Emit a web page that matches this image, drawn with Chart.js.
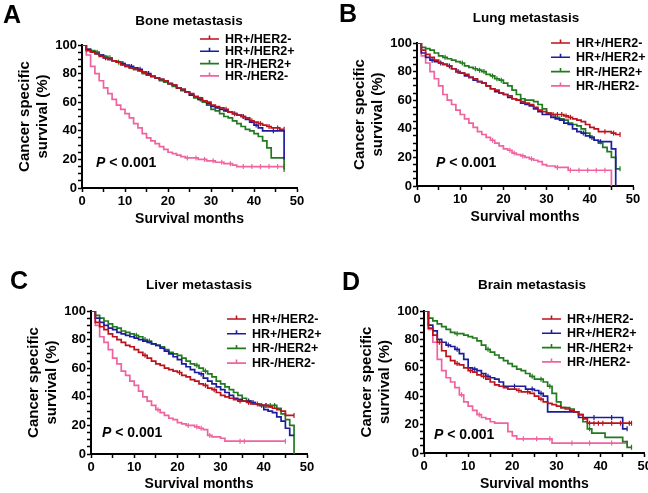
<!DOCTYPE html>
<html>
<head>
<meta charset="utf-8">
<script src="https://cdn.jsdelivr.net/npm/chart.js@4/dist/chart.umd.min.js"></script>
<style>
  body { margin: 0; background: #fff; width: 648px; height: 493px; position: relative; overflow: hidden; }
  canvas { position: absolute; }
</style>
</head>
<body>
<canvas id="cA" width="324" height="246" style="left:0;top:0"></canvas>
<canvas id="cB" width="324" height="246" style="left:324px;top:0"></canvas>
<canvas id="cC" width="324" height="247" style="left:0;top:246px"></canvas>
<canvas id="cD" width="330" height="247" style="left:324px;top:246px"></canvas>
<script>
const months = [0,1,2,3,4,5,6,7,8,9,10,11,12,13,14,15,16,17,18,19,20,21,22,23,24,25,26,27,28,29,30,31,32,33,34,35,36,37,38,39,40,41,42,43,44,45,46,47];
const groups = ['HR+/HER2-', 'HR+/HER2+', 'HR-/HER2+', 'HR-/HER2-'];
const groupColors = ['#bc121c', '#1c1c9c', '#217a1e', '#f0639f'];
const xTicks = [0, 10, 20, 30, 40, 50];
const yTicks = [0, 20, 40, 60, 80, 100];

// survival (%) at each month, A: bone
const boneHRposHER2neg = [100,96,95,94,92,91,90,89,88,86,85,84,83,82,81,79,78,77,76,75,73,72,70,69,67,66,64,63,61,60,58,57,56,55,53,52,51,50,49,47,46,45,44,43,42,42,41,41];
const boneHRposHER2pos = [100,97,95,94,93,91,90,89,88,87,86,85,84,83,81,80,78,77,76,75,73,72,70,69,67,65,64,62,61,59,57,56,55,54,53,52,51,50,48,46,44,42,40,40,40,40,40,20];
const boneHRnegHER2pos = [100,97,96,95,93,92,91,89,88,87,85,84,83,82,80,79,78,77,75,74,73,71,70,68,67,65,63,62,60,58,55,54,52,50,49,47,45,43,41,40,38,36,33,28,21,21,21,13];
const boneHRnegHER2neg = [100,93,85,80,75,70,66,62,58,55,52,49,45,42,38,35,33,31,29,27,25,24,23,22,21,21,21,20,20,19,19,18,18,17,17,16,15,15,15,15,15,15,15,15,15,15,15,15];
const boneCensored = [
  [33.5,35.5,37.5,39.5,41.5,43.5,45.5,47],
  [5.5,9.5,11.5,13.5,15.5,37.5,40.5,44.5],
  [3.5,6.5,8.5,27.5,47],
  [24.5,26.5,28.5,30.5,32.5,34.5,37.5,39.5,41.5,43.5,45.5,47]
];

// B: lung
const lungHRposHER2neg = [100,95,92,90,88,86,85,84,82,80,79,78,76,75,73,72,70,68,67,65,64,63,61,60,59,58,57,55,53,52,51,50,50,50,49,48,47,46,45,43,41,40,38,38,38,37,36,36];
const lungHRposHER2pos = [100,93,90,88,87,86,85,84,82,80,79,77,76,74,73,72,70,68,66,65,64,62,61,60,58,57,56,54,52,50,50,48,47,46,44,43,40,38,37,35,34,32,31,31,31,26,0,null];
const lungHRnegHER2pos = [100,97,96,95,93,91,90,89,88,87,86,84,83,82,81,80,78,77,75,74,72,70,67,64,61,60,60,59,57,54,51,50,48,47,46,44,43,42,40,37,34,32,30,27,24,20,12,12];
const lungHRnegHER2neg = [100,91,86,80,75,70,64,60,57,53,50,47,44,41,38,36,34,32,30,28,26,25,23,22,21,20,19,18,17,15,14,14,13,13,13,11,11,11,11,11,11,11,11,11,11,0,null,null];
const lungCensored = [
  [31.5,32.5,33.5,34.5,35.5,43.5,45.5,47],
  [3.5,5.5,7.5,9.5,38.5,40.5,42.5],
  [6.5,10.5,13.5,14.5,15.5,17.5,18.5,19.5,47],
  [17.5,21.5,22.5,24.5,26.5,32.5,35.5,37.5,39.5,41.5,43.5]
];

// C: liver
const liverHRposHER2neg = [100,92,89,87,84,82,80,78,76,75,73,71,69,67,65,63,62,60,59,58,57,55,54,52,51,49,48,46,45,43,41,40,39,38,37,37,36,35,35,34,34,33,32,31,30,27,27,27];
const liverHRposHER2pos = [100,95,92,90,88,87,85,84,83,82,81,80,79,78,77,76,74,72,70,68,66,63,61,59,57,56,53,51,49,47,45,43,41,39,38,37,37,36,35,34,31,30,29,26,23,18,13,13];
const liverHRnegHER2pos = [100,97,95,93,91,89,88,86,85,84,83,82,80,79,77,76,75,73,71,70,69,67,65,63,62,60,58,56,54,51,49,47,45,43,41,39,37,36,35,34,34,34,34,32,28,24,20,0];
const liverHRnegHER2neg = [100,90,82,78,73,67,63,58,55,51,48,44,40,37,34,31,29,27,25,24,22,21,20,20,19,18,17,13,12,12,11,9,9,9,9,9,9,9,9,9,9,9,9,9,9,9,null,null];
const liverCensored = [
  [12.5,20.5,26.5,28.5,34.5,36.5,38.5,40.5,47],
  [25.5,36.5,37.5],
  [10.5,12.5,13.5,24.5,26.5,39.5,40.5,41.5,42.5],
  [15.5,22.5,24.5,25.5,27.5,34.5,35.5,45]
];

// D: brain
const brainHRposHER2neg = [100,88,83,78,72,68,65,63,62,60,58,57,55,54,52,50,48,47,46,45,45,44,43,43,42,40,38,36,35,34,33,32,31,30,29,27,24,21,21,21,21,21,21,21,21,21,21,21];
const brainHRposHER2pos = [100,90,86,80,78,76,75,73,70,66,60,59,58,56,54,53,52,50,47,47,47,47,47,45,45,44,42,40,29,29,29,29,29,29,29,25,25,25,25,25,25,25,25,25,25,17,17,null];
const brainHRnegHER2pos = [100,95,93,91,89,87,85,84,84,83,82,81,79,76,73,71,69,67,65,63,61,59,58,56,54,52,52,50,47,42,36,32,32,31,29,27,22,17,14,14,14,11,11,11,11,8,4,4];
const brainHRnegHER2neg = [100,87,78,66,58,53,50,46,41,36,33,30,27,25,24,22,21,21,21,15,12,10,10,10,10,10,10,10,10,7,7,7,7,7,7,7,7,7,7,7,7,7,7,7,7,7,7,null];
const brainCensored = [
  [3.5,7.5,10.5,13.5,21.5,23.5,26.5,37.5,38.5,39.5,40.5,42.5,44.5,46.5,47],
  [5.5,7.5,11.5,14.5,20.5,24.5,26.5,38.5,42.5,46],
  [7.5,14.5,24.5,26.5,28.5,37.5,47],
  [8.5,12.5,22.5,25.5,28.5,33.5,37.5,42.5,46]
];

const FONT = "'Liberation Sans', Arial, sans-serif";

const overlay = {
  id: 'overlay',
  afterDraw(chart, args, o) {
    const ctx = chart.ctx;
    ctx.save();
    ctx.fillStyle = '#000';
    ctx.textBaseline = 'alphabetic';
    ctx.textAlign = 'left';
    ctx.font = 'bold 25px ' + FONT;
    ctx.fillText(o.letter, o.letterPos[0], o.letterPos[1]);
    ctx.textAlign = 'center';
    ctx.textBaseline = 'middle';
    ctx.font = 'bold 13.5px ' + FONT;
    ctx.fillText(o.title, o.titlePos[0], o.titlePos[1]);
    // legend
    ctx.textAlign = 'left';
    ctx.font = 'bold 12.5px ' + FONT;
    groups.forEach((g, i) => {
      const y = o.legend.y + i * o.legend.gap;
      ctx.strokeStyle = groupColors[i];
      ctx.lineWidth = 1.6;
      ctx.beginPath();
      ctx.moveTo(o.legend.x, y);
      ctx.lineTo(o.legend.x + 19, y);
      ctx.moveTo(o.legend.x + 9.5, y);
      ctx.lineTo(o.legend.x + 9.5, y - 3.5);
      ctx.stroke();
      ctx.fillStyle = '#000';
      ctx.fillText(g, o.legend.x + 25, y + 0.5);
    });
    // p value
    ctx.textBaseline = 'alphabetic';
    ctx.font = 'italic bold 14px ' + FONT;
    ctx.fillText('P', o.pPos[0], o.pPos[1]);
    const pw = ctx.measureText('P').width;
    ctx.font = 'bold 14px ' + FONT;
    ctx.fillText(' < 0.001', o.pPos[0] + pw, o.pPos[1]);
    ctx.restore();
  }
};

function stepValue(vals, t) {
  return vals[Math.floor(t)];
}

function makePanel(id, letter, title, series, censored, geo) {
  const datasets = [];
  series.forEach((vals, i) => {
    datasets.push({
      data: months.map((m, k) => ({ x: m, y: vals[k] })),
      borderColor: groupColors[i],
      borderWidth: 1.7,
      pointRadius: 0,
      stepped: 'before',
      fill: false,
      spanGaps: false
    });
  });
  censored.forEach((times, i) => {
    datasets.push({
      data: times.map(t => ({ x: t, y: stepValue(series[i], t) })),
      showLine: false,
      borderColor: groupColors[i],
      borderWidth: 1.2,
      pointStyle: 'line',
      rotation: 90,
      pointRadius: 2.5
    });
  });
  const a = geo.area;
  const xAxisH = geo.h - a.b;
  return new Chart(document.getElementById(id), {
    type: 'line',
    data: { datasets },
    options: {
      responsive: false,
      animation: false,
      events: [],
      layout: { padding: { left: a.l - 66, right: geo.w - a.r, top: a.t, bottom: 0 } },
      scales: {
        x: {
          type: 'linear', min: 0, max: 50,
          afterFit: s => { s.height = xAxisH; },
          border: { display: true, color: '#000', width: 2 },
          grid: { display: true, drawOnChartArea: false, drawTicks: true, tickLength: 4, tickColor: '#000', tickWidth: 1.5 },
          ticks: {
            stepSize: 5, autoSkip: false, maxRotation: 0, padding: 2, color: '#000',
            font: { family: FONT, size: 13, weight: 'bold' },
            callback: v => xTicks.includes(v) ? v : ''
          },
          title: {
            display: true, text: 'Survival months', color: '#000',
            font: { family: FONT, size: 14, weight: 'bold' },
            padding: { top: 0, bottom: Math.max(0, xAxisH - 31 - 8.4) }
          }
        },
        y: {
          min: 0, max: 100,
          afterFit: s => { s.width = 66; },
          border: { display: true, color: '#000', width: 2 },
          grid: { display: true, drawOnChartArea: false, drawTicks: true, tickLength: 4, tickColor: '#000', tickWidth: 1.5 },
          ticks: {
            stepSize: 5, autoSkip: false, padding: 1, color: '#000',
            font: { family: FONT, size: 13, weight: 'bold' },
            callback: v => yTicks.includes(v) ? v : ''
          },
          title: {
            display: true, text: ['Cancer specific', 'survival (%)'], color: '#000',
            font: { family: FONT, size: 15, weight: 'bold', lineHeight: '18px' },
            padding: { top: 0, bottom: 0 }
          }
        }
      },
      plugins: {
        legend: { display: false },
        tooltip: { enabled: false },
        overlay: { letter, title, ...geo.text }
      }
    },
    plugins: [overlay]
  });
}

makePanel('cA', 'A', 'Bone metastasis',
  [boneHRposHER2neg, boneHRposHER2pos, boneHRnegHER2pos, boneHRnegHER2neg], boneCensored,
  { w: 324, h: 246, area: { l: 82, r: 297, t: 45, b: 188 },
    text: { letterPos: [3, 23], titlePos: [189, 21], legend: { x: 200, y: 39, gap: 12.3 }, pPos: [96, 167] } });

makePanel('cB', 'B', 'Lung metastasis',
  [lungHRposHER2neg, lungHRposHER2pos, lungHRnegHER2pos, lungHRnegHER2neg], lungCensored,
  { w: 324, h: 246, area: { l: 93, r: 309, t: 43, b: 186 },
    text: { letterPos: [15, 22], titlePos: [202, 18], legend: { x: 227, y: 43, gap: 14.3 }, pPos: [112, 167] } });

makePanel('cC', 'C', 'Liver metastasis',
  [liverHRposHER2neg, liverHRposHER2pos, liverHRnegHER2pos, liverHRnegHER2neg], liverCensored,
  { w: 324, h: 247, area: { l: 91, r: 307, t: 65, b: 208 },
    text: { letterPos: [10, 43], titlePos: [199, 39], legend: { x: 227, y: 73, gap: 14.7 }, pPos: [102, 191] } });

makePanel('cD', 'D', 'Brain metastasis',
  [brainHRposHER2neg, brainHRposHER2pos, brainHRnegHER2pos, brainHRnegHER2neg], brainCensored,
  { w: 330, h: 247, area: { l: 100, r: 321, t: 65, b: 207 },
    text: { letterPos: [18, 44], titlePos: [208, 39], legend: { x: 218, y: 73, gap: 14.3 }, pPos: [110, 193] } });
</script>
</body>
</html>
